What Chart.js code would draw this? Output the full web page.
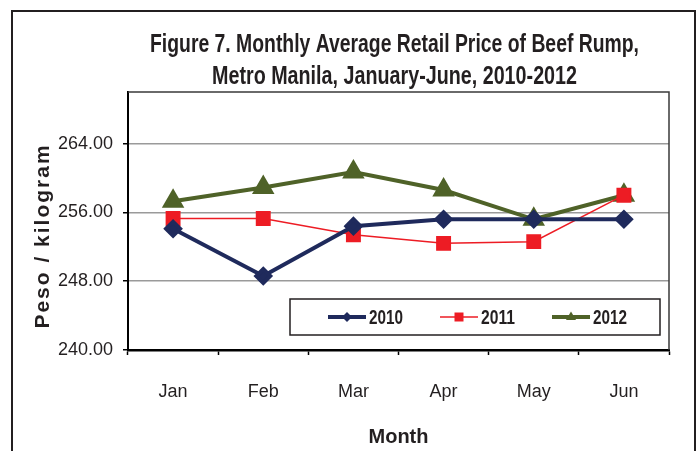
<!DOCTYPE html>
<html>
<head>
<meta charset="utf-8">
<script src="https://cdn.jsdelivr.net/npm/chart.js@4/dist/chart.umd.min.js"></script>
<style>
  html, body { margin: 0; padding: 0; background: #fff; }
  #wrap { width: 698px; height: 451px; }
</style>
</head>
<body>
<div id="wrap"><canvas id="beefChart" width="698" height="451"></canvas></div>
<script>
// Data
const months = ['Jan', 'Feb', 'Mar', 'Apr', 'May', 'Jun'];
const seriesNames = ['2010', '2011', '2012'];
const prices2010 = [254.1, 248.6, 254.4, 255.2, 255.2, 255.2];
const prices2011 = [255.3, 255.3, 253.4, 252.4, 252.6, 258.0];
const prices2012 = [257.3, 258.9, 260.7, 258.6, 255.2, 258.0];
const yTicks = [240, 248, 256, 264];
const titleLines = ['Figure 7. Monthly Average Retail Price of Beef Rump,', 'Metro Manila, January-June, 2010-2012'];

const textColor = '#231f20';
const sans = "'Liberation Sans', Arial, sans-serif";

// small marker painter, used for the legend keys
function drawMarker(ctx, style, x, y, r, color) {
    ctx.save();
    ctx.fillStyle = color;
    ctx.beginPath();
    if (style === 'rectRot') {
        ctx.moveTo(x, y - r); ctx.lineTo(x + r, y); ctx.lineTo(x, y + r); ctx.lineTo(x - r, y);
    } else if (style === 'rect') {
        ctx.rect(x - r, y - r, 2 * r, 2 * r);
    } else {
        ctx.moveTo(x, y - r * 1.1); ctx.lineTo(x + r, y + r * 0.6); ctx.lineTo(x - r, y + r * 0.6);
    }
    ctx.closePath();
    ctx.fill();
    ctx.restore();
}

// frame, title, plot box, y title and the in-plot legend
const decorPlugin = {
    id: 'decor',
    beforeDraw(chart) {
        const ctx = chart.ctx;
        ctx.save();
        ctx.fillStyle = '#fff';
        ctx.fillRect(0, 0, chart.width, chart.height);
        ctx.strokeStyle = textColor;
        ctx.lineWidth = 2;
        ctx.strokeRect(12, 11, chart.width - 15, chart.height + 20);
        ctx.restore();
    },
    afterDraw(chart) {
        const ctx = chart.ctx;
        const a = chart.chartArea;
        ctx.save();
        // condensed-looking title: squeeze the bold face to the reference widths
        ctx.fillStyle = textColor;
        ctx.font = 'bold 26px ' + sans;
        ctx.textAlign = 'center';
        ctx.textBaseline = 'middle';
        const cx = (a.left + a.right) / 2 - 4;
        ctx.fillText(titleLines[0], cx, 45, 489);
        ctx.fillText(titleLines[1], cx, 77, 365);

        // plot box top / right
        ctx.strokeStyle = '#3a3a3a';
        ctx.lineWidth = 1.5;
        ctx.beginPath();
        ctx.moveTo(a.left, a.top); ctx.lineTo(a.right, a.top); ctx.lineTo(a.right, a.bottom);
        ctx.stroke();

        // y axis title
        ctx.translate(43, a.bottom - 114);
        ctx.rotate(-Math.PI / 2);
        ctx.font = 'bold 21px ' + sans;
        ctx.letterSpacing = '2px';
        ctx.fillText('Peso / kilogram', 0, 0);
        ctx.restore();

        // legend box inside the plot
        const bx = a.left + 162, by = a.bottom - 51, bw = a.right - 9 - bx, bh = 36;
        ctx.save();
        ctx.fillStyle = '#fff';
        ctx.fillRect(bx, by, bw, bh);
        ctx.strokeStyle = textColor;
        ctx.lineWidth = 1.5;
        ctx.strokeRect(bx, by, bw, bh);
        const cy = by + bh / 2;
        chart.data.datasets.forEach((ds, i) => {
            const lx = bx + 38 + i * 112;
            ctx.strokeStyle = ds.borderColor;
            ctx.lineWidth = ds.borderWidth;
            ctx.beginPath();
            ctx.moveTo(lx, cy); ctx.lineTo(lx + 38, cy);
            ctx.stroke();
            drawMarker(ctx, ds.pointStyle, lx + 19, cy, ds.pointStyle === 'rect' ? 4.5 : 5, ds.borderColor);
            ctx.fillStyle = textColor;
            ctx.font = 'bold 21px ' + sans;
            ctx.textAlign = 'left';
            ctx.textBaseline = 'middle';
            ctx.fillText(ds.label, lx + 41, cy + 1, 34);
        });
        ctx.restore();
    }
};

const ctx = document.getElementById('beefChart').getContext('2d');
new Chart(ctx, {
    type: 'line',
    data: {
        labels: months,
        datasets: [
            {
                label: seriesNames[0], data: prices2010,
                borderColor: '#1f2a5c', backgroundColor: '#1f2a5c', borderWidth: 4,
                pointStyle: 'rectRot', pointRadius: 7, pointHoverRadius: 7
            },
            {
                label: seriesNames[1], data: prices2011,
                borderColor: '#ed1c24', backgroundColor: '#ed1c24', borderWidth: 1.5,
                pointStyle: 'rect', pointRadius: 9.5, pointHoverRadius: 9.5
            },
            {
                label: seriesNames[2], data: prices2012,
                borderColor: '#4f6228', backgroundColor: '#4f6228', borderWidth: 4,
                pointStyle: 'triangle', pointRadius: 9, pointHoverRadius: 9
            }
        ]
    },
    options: {
        responsive: false,
        animation: false,
        events: [],
        layout: { padding: { left: 0, right: 29, top: 92, bottom: 0 } },
        plugins: {
            legend: { display: false },
            tooltip: { enabled: false },
            title: { display: false }
        },
        scales: {
            x: {
                offset: true,
                grid: { offset: true, drawOnChartArea: false, tickLength: 5, tickColor: '#000', tickWidth: 1.5 },
                border: { color: '#000', width: 2.5 },
                ticks: { color: textColor, font: { family: sans, size: 18 }, padding: 26 },
                title: {
                    display: true, text: 'Month', color: textColor,
                    font: { family: sans, size: 20, weight: 'bold' },
                    padding: { top: 0, bottom: 2 }
                },
                afterFit(scale) { scale.height = 101; }
            },
            y: {
                min: 240,
                max: 270,
                afterBuildTicks(scale) { scale.ticks = yTicks.map(v => ({ value: v })); },
                grid: { color: '#9a9a9a', lineWidth: 1.5, tickLength: 5, tickColor: '#000', tickWidth: 1.5 },
                border: { color: '#000', width: 2 },
                ticks: {
                    color: textColor, font: { family: sans, size: 18 }, padding: 10,
                    callback: v => Number(v).toFixed(2)
                },
                afterFit(scale) { scale.width = 128; }
            }
        }
    },
    plugins: [decorPlugin]
});
</script>
</body>
</html>
